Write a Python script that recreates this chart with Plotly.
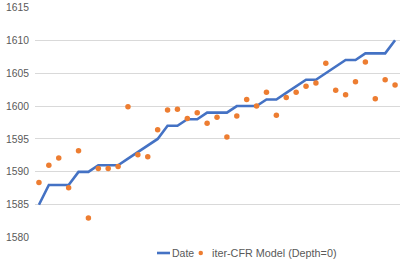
import plotly.graph_objects as go

x_index = list(range(37))
date_values = [1585, 1588, 1588, 1588, 1590, 1590, 1591, 1591, 1591, 1592,
               1593, 1594, 1595, 1597, 1597, 1598, 1598, 1599, 1599, 1599,
               1600, 1600, 1600, 1601, 1601, 1602, 1603, 1604, 1604, 1605,
               1606, 1607, 1607, 1608, 1608, 1608, 1610]
model_values = [1588.4, 1591.0, 1592.1, 1587.6, 1593.2, 1583.0, 1590.5, 1590.5, 1590.8, 1599.9,
                1592.6, 1592.3, 1596.4, 1599.4, 1599.5, 1598.1, 1599.0, 1597.4, 1598.3, 1595.3,
                1598.5, 1601.0, 1600.0, 1602.1, 1598.6, 1601.3, 1602.1, 1603.0, 1603.5, 1606.5,
                1602.4, 1601.7, 1603.7, 1606.7, 1601.1, 1604.0, 1603.2]
y_ticks = [1580, 1585, 1590, 1595, 1600, 1605, 1610, 1615]
series_names = ["Date", "iter-CFR Model (Depth=0)"]
colors = ["#4472C4", "#ED7D31"]

W, H = 407, 262
ML, MR, MT, MB = 35, 7, 7, 0
PW, PH = W - ML - MR, H - MT - MB


def px(xp):
    return (xp - ML) / PW


def py(yp):
    return (H - MB - yp) / PH


fig = go.Figure()
fig.add_trace(go.Scatter(x=x_index, y=date_values, mode="lines", name=series_names[0],
                         line=dict(color=colors[0], width=2.6)))
fig.add_trace(go.Scatter(x=x_index, y=model_values, mode="markers",
                         name=series_names[1],
                         marker=dict(color=colors[1], size=5.5)))

# custom compact legend
ly = 253
fig.add_shape(type="line", xref="paper", yref="paper", x0=px(157), x1=px(170),
              y0=py(ly), y1=py(ly), line=dict(color=colors[0], width=2.6))
fig.add_shape(type="circle", xref="paper", yref="paper", x0=px(198.5), x1=px(203),
              y0=py(ly + 2.25), y1=py(ly - 2.25), line=dict(width=0), fillcolor=colors[1])
fig.add_annotation(text=series_names[0], xref="paper", yref="paper", x=px(170), y=py(ly),
                   xanchor="left", yanchor="middle", showarrow=False,
                   font=dict(size=10.5, color="#595959"))
fig.add_annotation(text=series_names[1], xref="paper", yref="paper", x=px(209.5), y=py(ly),
                   xanchor="left", yanchor="middle", showarrow=False,
                   font=dict(size=10.8, color="#595959"))

fig.update_layout(
    width=W, height=H,
    margin=dict(l=ML, r=MR, t=MT, b=MB),
    paper_bgcolor="white", plot_bgcolor="white",
    font=dict(family="Liberation Sans, Arial, sans-serif", size=11, color="#595959"),
    showlegend=False,
    xaxis=dict(range=[-0.4, 36.5], showgrid=False, showticklabels=False,
               zeroline=False, showline=False, ticks="", automargin=False),
    yaxis=dict(range=[1579.95, 1615.05], tickvals=y_ticks, showgrid=True,
               domain=[24 / PH, 1],
               gridcolor="#D9D9D9", gridwidth=1, zeroline=False, showline=False,
               tickfont=dict(size=10.3, color="#595959"), ticks="", ticklabelstandoff=5,
               automargin=False),
)

fig.write_html("out.html", config={"displayModeBar": False},
               post_script="document.body.style.margin='0';")
